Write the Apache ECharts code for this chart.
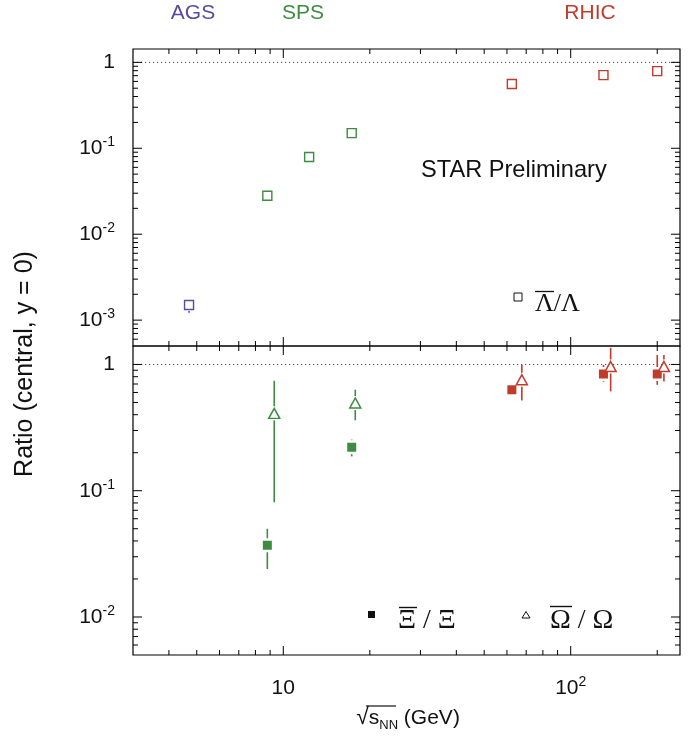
<!DOCTYPE html>
<html><head><meta charset="utf-8">
<script src="https://cdn.jsdelivr.net/npm/echarts@6/dist/echarts.min.js"></script>
<style>html,body{margin:0;padding:0;background:#fff}#c{width:697px;height:738px}</style>
</head><body><div id="c"></div>
<script>
// ---- axis ranges and ticks ----
const xMin = 3, xMax = 240;
const topYMin = 5e-4, topYMax = 1.43;
const botYMin = 5e-3, botYMax = 1.4;
const xMajorTicks = [10, 100];
const topYMajorTicks = [1e-3, 1e-2, 1e-1, 1];
const botYMajorTicks = [1e-2, 1e-1, 1];

// ---- colours ----
const cAGS = '#5a4b9c', cSPS = '#3d8c42', cRHIC = '#c13b2b';

// ---- top panel: anti-Lambda / Lambda ----
const lamAGS_x = [4.7],  lamAGS_y = [1.5e-3], lamAGS_lo = [1.22e-3], lamAGS_hi = [1.5e-3];
const lamSPS_x = [8.8, 12.3, 17.3], lamSPS_y = [0.028, 0.079, 0.15];
const lamRHIC_x = [62.4, 130, 200], lamRHIC_y = [0.56, 0.71, 0.79];

// ---- bottom panel: anti-Xi / Xi (filled squares) ----
const xiSPS_x = [8.8, 17.3], xiSPS_y = [0.037, 0.221], xiSPS_lo = [0.024, 0.187], xiSPS_hi = [0.050, 0.254];
const xiRHIC_x = [62.4, 130, 200], xiRHIC_y = [0.63, 0.84, 0.84], xiRHIC_lo = [0.61, 0.73, 0.69], xiRHIC_hi = [0.65, 0.99, 1.19];
// ---- bottom panel: anti-Omega / Omega (open triangles) ----
const omSPS_x = [9.3, 17.8], omSPS_y = [0.41, 0.495], omSPS_lo = [0.081, 0.361], omSPS_hi = [0.743, 0.631];
const omRHIC_x = [67.6, 137.7, 211], omRHIC_y = [0.757, 0.964, 0.964], omRHIC_lo = [0.519, 0.612, 0.734], omRHIC_hi = [0.995, 1.355, 1.19];

const SANS = '"Liberation Sans", Arial, Helvetica, sans-serif';
const SERIF = '"Liberation Serif", "Times New Roman", serif';

function minorTicks(min, max) {
  const out = [];
  for (let e = Math.floor(Math.log10(min)); e <= Math.ceil(Math.log10(max)); e++) {
    for (let k = 2; k <= 9; k++) {
      const v = k * Math.pow(10, e);
      if (v > min * 1.0001 && v < max * 0.9999) out.push(v);
    }
  }
  return out;
}
function isDecade(v) { const l = Math.log10(v); return Math.abs(l - Math.round(l)) < 1e-6; }
function fmtLog(v) {
  if (!isDecade(v)) return '';
  const e = Math.round(Math.log10(v));
  if (e === 0) return '{b|1}';
  if (e === 1) return '{b|10}';
  return '{b|10}{s|' + e + '}';
}
const labelRich = {
  b: { fontSize: 21, fontFamily: SANS, color: '#111', lineHeight: 26 },
  s: { fontSize: 14, fontFamily: SANS, color: '#111', lineHeight: 26, verticalAlign: 'top' }
};

function tickSeries(gi, ymin, ymax, yMajor) {
  const data = [];
  xMajorTicks.forEach(v => data.push([v, ymin, 0]));
  minorTicks(xMin, xMax).forEach(v => data.push([v, ymin, 1]));
  yMajor.forEach(v => data.push([xMin, v, 2]));
  minorTicks(ymin, ymax).forEach(v => data.push([xMin, v, 3]));
  return {
    type: 'custom', xAxisIndex: gi, yAxisIndex: gi, silent: true, z: 5, clip: false,
    data: data,
    renderItem: function (params, api) {
      const kind = api.value(2);
      const lb = api.coord([xMin, ymin]), rt = api.coord([xMax, ymax]);
      const style = { stroke: '#000', lineWidth: 1 };
      if (kind < 2) {
        const p = api.coord([api.value(0), ymin]);
        const L = kind === 0 ? 9 : 5;
        return { type: 'group', children: [
          { type: 'line', shape: { x1: p[0], y1: lb[1], x2: p[0], y2: lb[1] - L }, style: style },
          { type: 'line', shape: { x1: p[0], y1: rt[1], x2: p[0], y2: rt[1] + L }, style: style }
        ]};
      } else {
        const p = api.coord([xMin, api.value(1)]);
        const L = kind === 2 ? 9 : 5;
        return { type: 'group', children: [
          { type: 'line', shape: { x1: lb[0], y1: p[1], x2: lb[0] + L, y2: p[1] }, style: style },
          { type: 'line', shape: { x1: rt[0], y1: p[1], x2: rt[0] - L, y2: p[1] }, style: style }
        ]};
      }
    }
  };
}

function errSeries(gi, xs, ys, lo, hi, color, gap) {
  return {
    type: 'custom', xAxisIndex: gi, yAxisIndex: gi, silent: true, z: 3,
    data: xs.map((x, i) => [x, ys[i], lo[i], hi[i]]),
    renderItem: function (params, api) {
      const x = api.value(0);
      const c = api.coord([x, api.value(1)]);
      const pl = api.coord([x, api.value(2)]);
      const ph = api.coord([x, api.value(3)]);
      const st = { stroke: color, lineWidth: 1.6 };
      const ch = [];
      if (pl[1] > c[1] + gap) ch.push({ type: 'line', shape: { x1: c[0], y1: c[1] + gap, x2: c[0], y2: pl[1] }, style: st });
      if (ph[1] < c[1] - gap) ch.push({ type: 'line', shape: { x1: c[0], y1: c[1] - gap, x2: c[0], y2: ph[1] }, style: st });
      return { type: 'group', children: ch };
    }
  };
}

function pts(xs, ys) { return xs.map((x, i) => [x, ys[i]]); }
function openSq(gi, xs, ys, color) {
  return { type: 'scatter', xAxisIndex: gi, yAxisIndex: gi, symbol: 'rect', symbolSize: 9, z: 4,
    itemStyle: { color: '#fff', borderColor: color, borderWidth: 1.4, opacity: 1 }, data: pts(xs, ys) };
}
function fillSq(gi, xs, ys, color) {
  return { type: 'scatter', xAxisIndex: gi, yAxisIndex: gi, symbol: 'rect', symbolSize: 9, z: 4,
    itemStyle: { color: color, borderWidth: 0, opacity: 1 }, data: pts(xs, ys) };
}
function openTri(gi, xs, ys, color) {
  return { type: 'scatter', xAxisIndex: gi, yAxisIndex: gi, symbol: 'triangle', symbolSize: [11, 10], z: 4,
    itemStyle: { color: '#fff', borderColor: color, borderWidth: 1.5, opacity: 1 }, data: pts(xs, ys) };
}
function unityLine(gi) {
  return { type: 'line', xAxisIndex: gi, yAxisIndex: gi, symbol: 'none', silent: true, z: 2,
    lineStyle: { color: '#444', width: 1, type: [1.2, 2.8] }, data: [[xMin, 1], [xMax, 1]] };
}

const chart = echarts.init(document.getElementById('c'), null, { renderer: 'canvas' });
const option = {
  animation: false,
  backgroundColor: '#fff',
  grid: [
    { left: 133, width: 547, top: 49, height: 297, show: true, borderColor: '#000', borderWidth: 1.2, backgroundColor: 'transparent' },
    { left: 133, width: 547, top: 346, height: 309, show: true, borderColor: '#000', borderWidth: 1.2, backgroundColor: 'transparent' }
  ],
  xAxis: [
    { type: 'log', logBase: 10, gridIndex: 0, min: xMin, max: xMax, axisLine: { show: false }, axisTick: { show: false }, splitLine: { show: false }, axisLabel: { show: false } },
    { type: 'log', logBase: 10, gridIndex: 1, min: xMin, max: xMax, axisLine: { show: false }, axisTick: { show: false }, splitLine: { show: false },
      axisLabel: { show: true, margin: 20, formatter: fmtLog, rich: labelRich, showMinLabel: false, showMaxLabel: false } }
  ],
  yAxis: [
    { type: 'log', logBase: 10, gridIndex: 0, min: topYMin, max: topYMax, axisLine: { show: false }, axisTick: { show: false }, splitLine: { show: false },
      axisLabel: { show: true, margin: 18, formatter: fmtLog, rich: labelRich, showMinLabel: false, showMaxLabel: false } },
    { type: 'log', logBase: 10, gridIndex: 1, min: botYMin, max: botYMax, axisLine: { show: false }, axisTick: { show: false }, splitLine: { show: false },
      axisLabel: { show: true, margin: 18, formatter: fmtLog, rich: labelRich, showMinLabel: false, showMaxLabel: false } }
  ],
  series: [
    unityLine(0), unityLine(1),
    tickSeries(0, topYMin, topYMax, topYMajorTicks),
    tickSeries(1, botYMin, botYMax, botYMajorTicks),
    errSeries(0, lamAGS_x, lamAGS_y, lamAGS_lo, lamAGS_hi, cAGS, 6),
    openSq(0, lamAGS_x, lamAGS_y, cAGS),
    openSq(0, lamSPS_x, lamSPS_y, cSPS),
    openSq(0, lamRHIC_x, lamRHIC_y, cRHIC),
    errSeries(1, xiSPS_x, xiSPS_y, xiSPS_lo, xiSPS_hi, cSPS, 7),
    errSeries(1, xiRHIC_x, xiRHIC_y, xiRHIC_lo, xiRHIC_hi, cRHIC, 7),
    errSeries(1, omSPS_x, omSPS_y, omSPS_lo, omSPS_hi, cSPS, 7),
    errSeries(1, omRHIC_x, omRHIC_y, omRHIC_lo, omRHIC_hi, cRHIC, 7),
    fillSq(1, xiSPS_x, xiSPS_y, cSPS),
    fillSq(1, xiRHIC_x, xiRHIC_y, cRHIC),
    openTri(1, omSPS_x, omSPS_y, cSPS),
    openTri(1, omRHIC_x, omRHIC_y, cRHIC)
  ],
  graphic: [
    { type: 'text', x: 193, y: 13, style: { text: 'AGS', fill: cAGS, font: '21px ' + SANS, align: 'center', verticalAlign: 'middle' } },
    { type: 'text', x: 303, y: 13, style: { text: 'SPS', fill: cSPS, font: '21px ' + SANS, align: 'center', verticalAlign: 'middle' } },
    { type: 'text', x: 590, y: 13, style: { text: 'RHIC', fill: cRHIC, font: '21px ' + SANS, align: 'center', verticalAlign: 'middle' } },
    { type: 'text', x: 421, y: 170, style: { text: 'STAR Preliminary', fill: '#111', font: '23.6px ' + SANS, align: 'left', verticalAlign: 'middle' } },
    { type: 'text', x: 25, y: 364, rotation: Math.PI / 2, style: { text: 'Ratio (central, y = 0)', fill: '#111', font: '25px ' + SANS, align: 'center', verticalAlign: 'middle' } },
    // x-axis title
    { type: 'text', x: 408, y: 718, style: {
        text: '{r|√}{s|s}{n|NN}{g| (GeV)}', align: 'center', verticalAlign: 'middle',
        rich: {
          r: { fontSize: 23, fontFamily: SANS, fill: '#111', lineHeight: 28 },
          s: { fontSize: 21, fontFamily: SANS, fill: '#111', lineHeight: 28 },
          n: { fontSize: 13, fontFamily: SANS, fill: '#111', lineHeight: 28, verticalAlign: 'bottom' },
          g: { fontSize: 21, fontFamily: SANS, fill: '#111', lineHeight: 28 }
        } } },
    { type: 'line', shape: { x1: 366, y1: 706, x2: 396, y2: 706 }, style: { stroke: '#111', lineWidth: 1.2 } },
    // legends
    { type: 'rect', shape: { x: 514, y: 293, width: 8, height: 8 }, style: { fill: '#fff', stroke: '#111', lineWidth: 1 } },
    { type: 'text', x: 535, y: 304, style: { text: 'Λ/Λ', fill: '#111', font: '26px ' + SERIF, align: 'left', verticalAlign: 'middle' } },
    { type: 'line', shape: { x1: 535, y1: 291.5, x2: 554, y2: 291.5 }, style: { stroke: '#111', lineWidth: 1.3 } },
    { type: 'rect', shape: { x: 368, y: 611, width: 7, height: 7 }, style: { fill: '#111' } },
    { type: 'text', x: 398, y: 621, style: { text: 'Ξ / Ξ', fill: '#111', font: '28px ' + SERIF, align: 'left', verticalAlign: 'middle' } },
    { type: 'line', shape: { x1: 399, y1: 607.5, x2: 417, y2: 607.5 }, style: { stroke: '#111', lineWidth: 1.4 } },
    { type: 'polygon', shape: { points: [[526, 611.5], [530, 618], [522, 618]] }, style: { fill: '#fff', stroke: '#111', lineWidth: 1 } },
    { type: 'text', x: 550, y: 621, style: { text: 'Ω / Ω', fill: '#111', font: '28px ' + SERIF, align: 'left', verticalAlign: 'middle' } },
    { type: 'line', shape: { x1: 550, y1: 606.5, x2: 572, y2: 606.5 }, style: { stroke: '#111', lineWidth: 1.4 } }
  ]
};
chart.setOption(option);
</script>
</body></html>
